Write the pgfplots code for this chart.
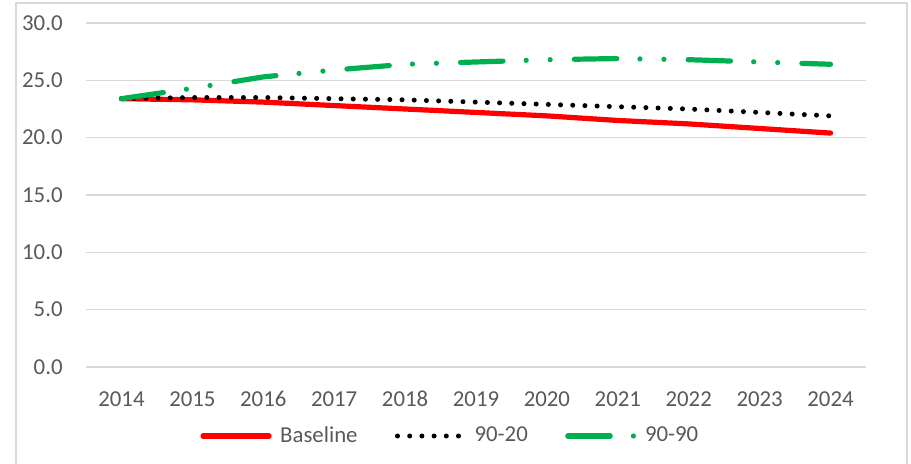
\documentclass[border=0pt]{standalone}
\usepackage{fontspec}
\setmainfont{Carlito}
\usepackage{pgfplots}
\pgfplotsset{compat=1.18}
\definecolor{txt}{HTML}{595959}
\definecolor{gridc}{HTML}{D9D9D9}
\definecolor{xlgreen}{HTML}{00B050}
\begin{document}
\fontsize{11.4pt}{13pt}\selectfont
\begin{tikzpicture}
\path[use as bounding box] (0,0) rectangle (455.5pt,232pt);
\draw[gridc, line width=0.8pt] (8pt,-2pt) -- (8pt,230.5pt) -- (453.5pt,230.5pt) -- (453.5pt,-2pt);
\begin{axis}[
  at={(43pt,48.5pt)}, anchor=south west,
  scale only axis, width=390pt, height=172pt,
  xmin=-0.5, xmax=10.5, ymin=0, ymax=30,
  axis line style={draw=none},
  ytick={0,5,...,30},
  xtick={0,...,10},
  xticklabels={2014,2015,2016,2017,2018,2019,2020,2021,2022,2023,2024},
  major tick length=0pt, tick style={draw=none},
  xmajorgrids=false, ymajorgrids=true, grid style={draw=gridc, line width=0.8pt},
  /pgf/number format/fixed, /pgf/number format/fixed zerofill,
  /pgf/number format/precision=1, /pgf/number format/assume math mode=true,
  every tick label/.append style={font=\fontsize{11.4pt}{13pt}\selectfont, text=txt, inner sep=0pt},
  yticklabel style={xshift=-11.5pt},
  xticklabel style={yshift=-12pt},
  clip=false,
  legend image code/.code={\draw[#1] (0pt,0pt) -- (33pt,0pt);},
  legend style={draw=none, fill=none, anchor=west, inner sep=0pt,
    at={(axis description cs:0.1462,-0.2006)},
    legend columns=3, font=\fontsize{11.4pt}{13pt}\selectfont, text=txt,
    nodes={inner sep=0pt},
    /tikz/every odd column/.append style={column sep=4.3pt},
    /tikz/every even column/.append style={column sep=18.7pt}},
]
\addplot[red, line width=2.6pt, line cap=round, line join=round] coordinates {
(0,23.4) (1,23.3) (2,23.1) (3,22.8) (4,22.5) (5,22.2) (6,21.9) (7,21.5) (8,21.2) (9,20.8) (10,20.4)};
\addlegendentry{Baseline}
\addplot[black, line width=2.5pt, line cap=round, dash pattern=on 0pt off 6.1pt] coordinates {
(0,23.4) (1,23.5) (2,23.5) (3,23.4) (4,23.3) (5,23.1) (6,22.9) (7,22.7) (8,22.5) (9,22.2) (10,21.9)};
\addlegendentry{90-20}
\addplot[xlgreen, line width=2.6pt, line cap=round, dash pattern=on 21.2pt off 11.6pt on 0pt off 12pt on 0pt off 12.1pt] coordinates {
(0,23.4) (1,24.3) (2,25.3) (3,25.9) (4,26.4) (5,26.6) (6,26.8) (7,26.9) (8,26.8) (9,26.6) (10,26.4)};
\addlegendentry{90-90}
\end{axis}
\end{tikzpicture}
\end{document}
